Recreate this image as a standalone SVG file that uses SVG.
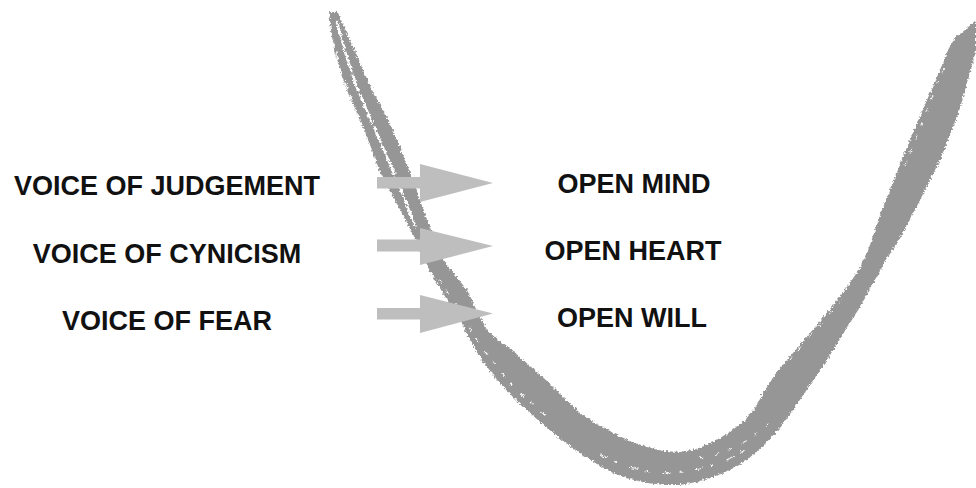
<svg xmlns="http://www.w3.org/2000/svg" width="976" height="488" viewBox="0 0 976 488">
  <style>
    .lbl { font-family: "Liberation Sans", Arial, sans-serif; font-weight: bold; font-size: 27px; fill: #111111; text-anchor: middle; }
    .arrow { fill: #bebebe; }
    .brush { fill: #969696; }
    .streak { fill: none; stroke: #ffffff; stroke-linecap: round; }
  </style>
  <defs>
    <filter id="rough" filterUnits="userSpaceOnUse" x="300" y="0" width="676" height="488">
      <feTurbulence type="fractalNoise" baseFrequency="0.45" numOctaves="2" seed="7" result="n"/>
      <feDisplacementMap in="SourceGraphic" in2="n" scale="5" xChannelSelector="R" yChannelSelector="G"/>
    </filter>
  </defs>
  <rect width="976" height="488" fill="#ffffff"/>

  <g id="u-curve" filter="url(#rough)">
    <path class="brush" d="M329,12 L331,30 L334,50 L343,80 L352,103 L363,127 L372,150 L380,172 L392,195 L403,215 L413,235 L422,255 L432,275 L446,298 L460,320 L470,340 L482,360 L497,380 L513,397 L530,413 L547,428 L563,441 L580,453 L597,464 L613,473 L630,479 L647,483 L664,485 L680,485 L697,482 L713,477 L730,470 L747,460 L763,446 L780,428 L793,410 L810,385 L827,360 L843,334 L860,307 L872,285 L885,262 L900,238 L912,216 L925,190 L940,160 L950,135 L960,108 L968,80 L976,50 L976,20 L965,30 L955,38 L948,50 L940,70 L927,100 L915,128 L903,157 L892,185 L880,215 L870,245 L860,268 L845,290 L827,313 L810,333 L793,353 L777,372 L765,390 L755,408 L745,420 L730,432 L713,442 L697,449 L680,452 L663,451 L647,447 L630,441 L613,433 L597,424 L580,413 L563,397 L547,381 L530,366 L513,351 L498,340 L487,330 L477,310 L467,290 L455,275 L443,260 L435,240 L427,220 L420,200 L413,180 L405,160 L393,130 L383,110 L373,92 L363,70 L352,45 L343,25 L338,12 Z"/>
    <path class="streak" stroke-width="2.5" stroke-dasharray="16 4 8 3 20 5" d="M337,22 L346,55 L356,85 L370,118 L384,150 L396,178 L407,205 L416,228"/>
    <path class="streak" stroke-width="1.2" stroke-dasharray="6 7 10 6" d="M333,40 L340,70 L352,100 L362,125"/>
    <path class="streak" stroke-width="1.2" stroke-dasharray="4 9 3 12" d="M440,280 L452,300 L466,322 L480,345 L496,366 L512,385 L530,402 L548,418"/>
    <path class="streak" stroke-width="1.2" stroke-dasharray="7 9 3 14" d="M600,455 L625,466 L650,472 L675,473 L700,469 L725,461 L745,450"/>
    <path class="streak" stroke-width="1" stroke-dasharray="3 12 5 10" d="M700,458 L725,452 L748,440 L768,424"/>
    <path class="streak" stroke-width="1" stroke-dasharray="3 10 4 14" d="M790,360 L808,338 L826,318 L845,296"/>
    <path class="streak" stroke-width="1" stroke-dasharray="3 10 4 12" d="M905,165 L915,140 L925,115 L935,90 L945,65"/>
  </g>

  <g id="connectors">
    <g id="arrow-1"><rect class="arrow" x="377" y="177" width="44" height="11.5"/><polygon class="arrow" points="420,164 493,183 420,202"/></g>
    <g id="arrow-2"><rect class="arrow" x="377" y="239.5" width="44" height="12"/><polygon class="arrow" points="420,228 493,246 420,265"/></g>
    <g id="arrow-3"><rect class="arrow" x="377" y="308" width="44" height="11.5"/><polygon class="arrow" points="420,295 493,313.5 420,333"/></g>
  </g>

  <g id="voice-of-judgement"><text class="lbl" x="167" y="195">VOICE OF JUDGEMENT</text></g>
  <g id="voice-of-cynicism"><text class="lbl" x="167" y="263">VOICE OF CYNICISM</text></g>
  <g id="voice-of-fear"><text class="lbl" x="167" y="330">VOICE OF FEAR</text></g>
  <g id="open-mind"><text class="lbl" x="634" y="193">OPEN MIND</text></g>
  <g id="open-heart"><text class="lbl" x="633" y="260">OPEN HEART</text></g>
  <g id="open-will"><text class="lbl" x="632" y="327">OPEN WILL</text></g>
</svg>
